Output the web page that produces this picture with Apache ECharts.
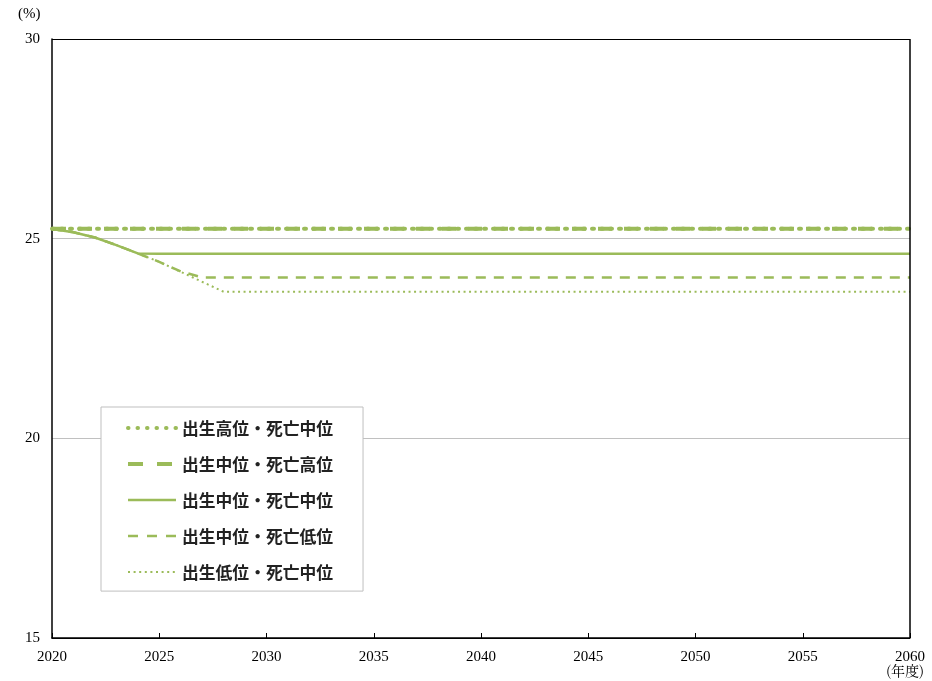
<!DOCTYPE html>
<html><head><meta charset="utf-8">
<script src="https://cdn.jsdelivr.net/npm/echarts@6/dist/echarts.min.js"></script>
<style>html,body{margin:0;padding:0;background:#fff}#c{width:932px;height:681px}</style>
</head><body><div id="c"></div>
<script>
const years = [2020,2021,2022,2023,2024,2025,2026,2027,2028,2029,2030,2031,2032,2033,2034,2035,2036,2037,2038,2039,2040,
2041,2042,2043,2044,2045,2046,2047,2048,2049,2050,2051,2052,2053,2054,2055,2056,2057,2058,2059,2060];
const seriesNames = ['出生高位・死亡中位','出生中位・死亡高位','出生中位・死亡中位','出生中位・死亡低位','出生低位・死亡中位'];
const highBirthMidDeath = [25.25,25.25,25.25,25.25,25.25,25.25,25.25,25.25,25.25,25.25,25.25,25.25,25.25,25.25,25.25,25.25,25.25,25.25,25.25,25.25,25.25,
25.25,25.25,25.25,25.25,25.25,25.25,25.25,25.25,25.25,25.25,25.25,25.25,25.25,25.25,25.25,25.25,25.25,25.25,25.25,25.25];
const midBirthHighDeath = [25.25,25.25,25.25,25.25,25.25,25.25,25.25,25.25,25.25,25.25,25.25,25.25,25.25,25.25,25.25,25.25,25.25,25.25,25.25,25.25,25.25,
25.25,25.25,25.25,25.25,25.25,25.25,25.25,25.25,25.25,25.25,25.25,25.25,25.25,25.25,25.25,25.25,25.25,25.25,25.25,25.25];
const midBirthMidDeath = [25.24,25.16,25.03,24.84,24.63,24.62,24.62,24.62,24.62,24.62,24.62,24.62,24.62,24.62,24.62,24.62,24.62,24.62,24.62,24.62,24.62,
24.62,24.62,24.62,24.62,24.62,24.62,24.62,24.62,24.62,24.62,24.62,24.62,24.62,24.62,24.62,24.62,24.62,24.62,24.62,24.62];
const midBirthLowDeath = [25.24,25.16,25.03,24.84,24.63,24.42,24.18,24.03,24.03,24.03,24.03,24.03,24.03,24.03,24.03,24.03,24.03,24.03,24.03,24.03,24.03,
24.03,24.03,24.03,24.03,24.03,24.03,24.03,24.03,24.03,24.03,24.03,24.03,24.03,24.03,24.03,24.03,24.03,24.03,24.03,24.03];
const lowBirthMidDeath = [25.24,25.16,25.03,24.84,24.63,24.42,24.17,23.92,23.67,23.67,23.67,23.67,23.67,23.67,23.67,23.67,23.67,23.67,23.67,23.67,23.67,
23.67,23.67,23.67,23.67,23.67,23.67,23.67,23.67,23.67,23.67,23.67,23.67,23.67,23.67,23.67,23.67,23.67,23.67,23.67,23.67];
const yTicks = [15,20,25,30];
const xTicks = [2020,2025,2030,2035,2040,2045,2050,2055,2060];

const green = '#9bbb59';
const serif = 'Liberation Serif';
const pairs = arr => years.map((y,i)=>[y,arr[i]]);
const styles = [
  {width:4, type:[2,7], cap:'round', legendType:[0.5,9], legendCap:'round'},
  {width:4, type:[14,12], cap:'butt', legendType:[15,14], legendCap:'butt'},
  {width:2.5, type:'solid', cap:'butt', legendType:'solid', legendCap:'butt'},
  {width:2.5, type:[10,8], cap:'butt', legendType:[10,9], legendCap:'butt'},
  {width:2, type:[2,3.5], cap:'butt', legendType:[2,3.6], legendCap:'butt'}
];
const datas = [highBirthMidDeath, midBirthHighDeath, midBirthMidDeath, midBirthLowDeath, lowBirthMidDeath];

// legend key graphics (legend icons drawn as line samples)
const legendTop = 428, legendStep = 36;
const legendKeys = styles.map((s,i)=>({
  type:'line', z:20,
  shape:{x1:128,y1:legendTop+legendStep*i,x2:176,y2:legendTop+legendStep*i},
  style:{stroke:green,lineWidth:s.width,lineDash:s.legendType==='solid'?null:s.legendType,lineCap:s.legendCap}
}));

const chart = echarts.init(document.getElementById('c'), null, {renderer:'canvas'});
chart.setOption({
  animation:false,
  backgroundColor:'#fff',
  grid:{left:52,right:22,top:39,bottom:43,show:false},
  xAxis:{type:'value',min:2020,max:2060,interval:5,
    axisLine:{show:true,lineStyle:{color:'#000',width:1.5}},
    axisTick:{show:true,inside:true,length:5,lineStyle:{color:'#000'}},
    axisLabel:{color:'#000',fontFamily:serif,fontSize:15,margin:12,formatter:v=>String(v)},
    splitLine:{show:false}},
  yAxis:{type:'value',min:15,max:30,interval:5,
    axisLine:{show:true,lineStyle:{color:'#000',width:1.5}},
    axisTick:{show:false},
    axisLabel:{color:'#000',fontFamily:serif,fontSize:15,margin:12},
    splitLine:{show:true,lineStyle:{color:['#000','#c0c0c0','#c0c0c0','#000'],width:1}}},
  graphic:[
    {type:'line',shape:{x1:910,y1:39,x2:910,y2:638},style:{stroke:'#000',lineWidth:1.5},z:10},
    {type:'text',left:18,top:7,style:{text:'(%)',font:'15px "Liberation Serif"',fill:'#000'}},
    {type:'text',left:886,top:664,style:{text:'(年度)',font:'14px "Noto Serif CJK JP", "Noto Sans CJK JP"',fill:'#000'}}
  ].concat(legendKeys),
  legend:{orient:'vertical',left:101,top:407,
    backgroundColor:'#fff',borderColor:'#bfbfbf',borderWidth:1,
    padding:[13,30,10,26],itemGap:19.3,itemWidth:48,itemHeight:16,
    textStyle:{fontFamily:'Noto Sans CJK JP',fontSize:16.8,lineHeight:16,fontWeight:'bold',color:'#222',padding:[0,0,0,2]},
    data:seriesNames.map(n=>({name:n,icon:'none'}))},
  series: datas.map((d,i)=>({
    name:seriesNames[i],type:'line',data:pairs(d),showSymbol:false,symbol:'none',
    lineStyle:{color:green,width:styles[i].width,type:styles[i].type,cap:styles[i].cap},
    itemStyle:{color:green},z:5-i
  }))
});
</script></body></html>
